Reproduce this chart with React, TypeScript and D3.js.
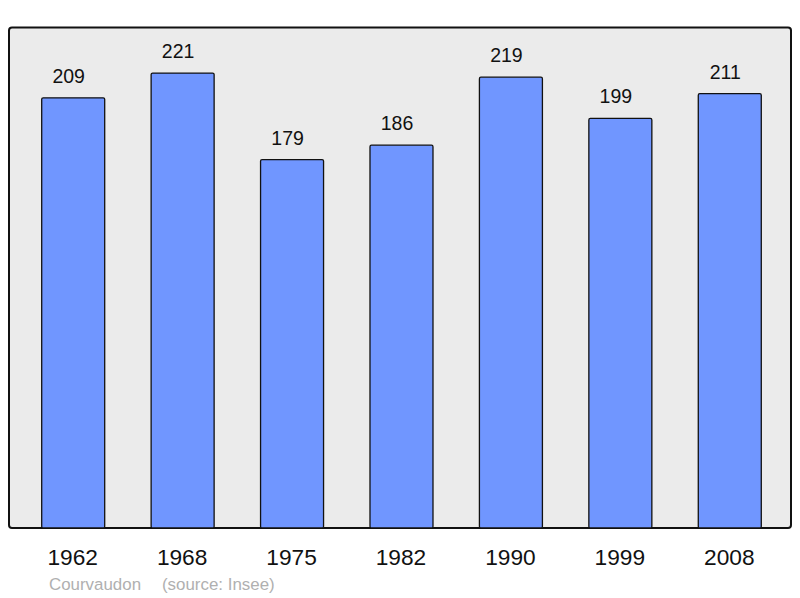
import React from "react";
import * as d3 from "d3";

const years = ["1962", "1968", "1975", "1982", "1990", "1999", "2008"];
const population = [209, 221, 179, 186, 219, 199, 211];
const placeName = "Courvaudon";
const sourceText = "(source: Insee)";

export default function App() {
  const W = 800, H = 598;
  const frame = { x0: 9, y0: 27.5, x1: 791, y1: 528 };
  const step = 109.43;
  const bw = 63;
  const x = d3.scalePoint<string>().domain(years).range([41.7, 41.7 + 6 * step]);
  const y = d3.scaleLinear().domain([0, 243.4]).range([528, 27]);
  return (
    <svg width={W} height={H} style={{ position: "absolute", left: 0, top: 0 }} fontFamily="'Liberation Sans', Arial, sans-serif">
      <rect x={frame.x0} y={frame.y0} width={frame.x1 - frame.x0} height={frame.y1 - frame.y0} rx={3} fill="#ebebeb" stroke="#111" strokeWidth={2} />
      {population.map((v, i) => {
        const bx = x(years[i]) as number;
        return (
          <g key={years[i]}>
            <rect x={bx} y={y(v)} width={bw} height={y(0) - y(v)} rx={1.5} fill="#7096ff" stroke="#111" strokeWidth={1.3} />
            <text x={bx + bw / 2 - 4.5} y={y(v) - 15} textAnchor="middle" fontSize={19.5} fill="#111">{v}</text>
            <text x={bx + bw / 2 - 0.5} y={564.5} textAnchor="middle" fontSize={22.7} fill="#111">{years[i]}</text>
          </g>
        );
      })}
      <text x={49} y={590} fontSize={16.9} fill="#b0b0b0">{placeName}</text>
      <text x={162} y={590} fontSize={16.9} fill="#b0b0b0">{sourceText}</text>
    </svg>
  );
}
